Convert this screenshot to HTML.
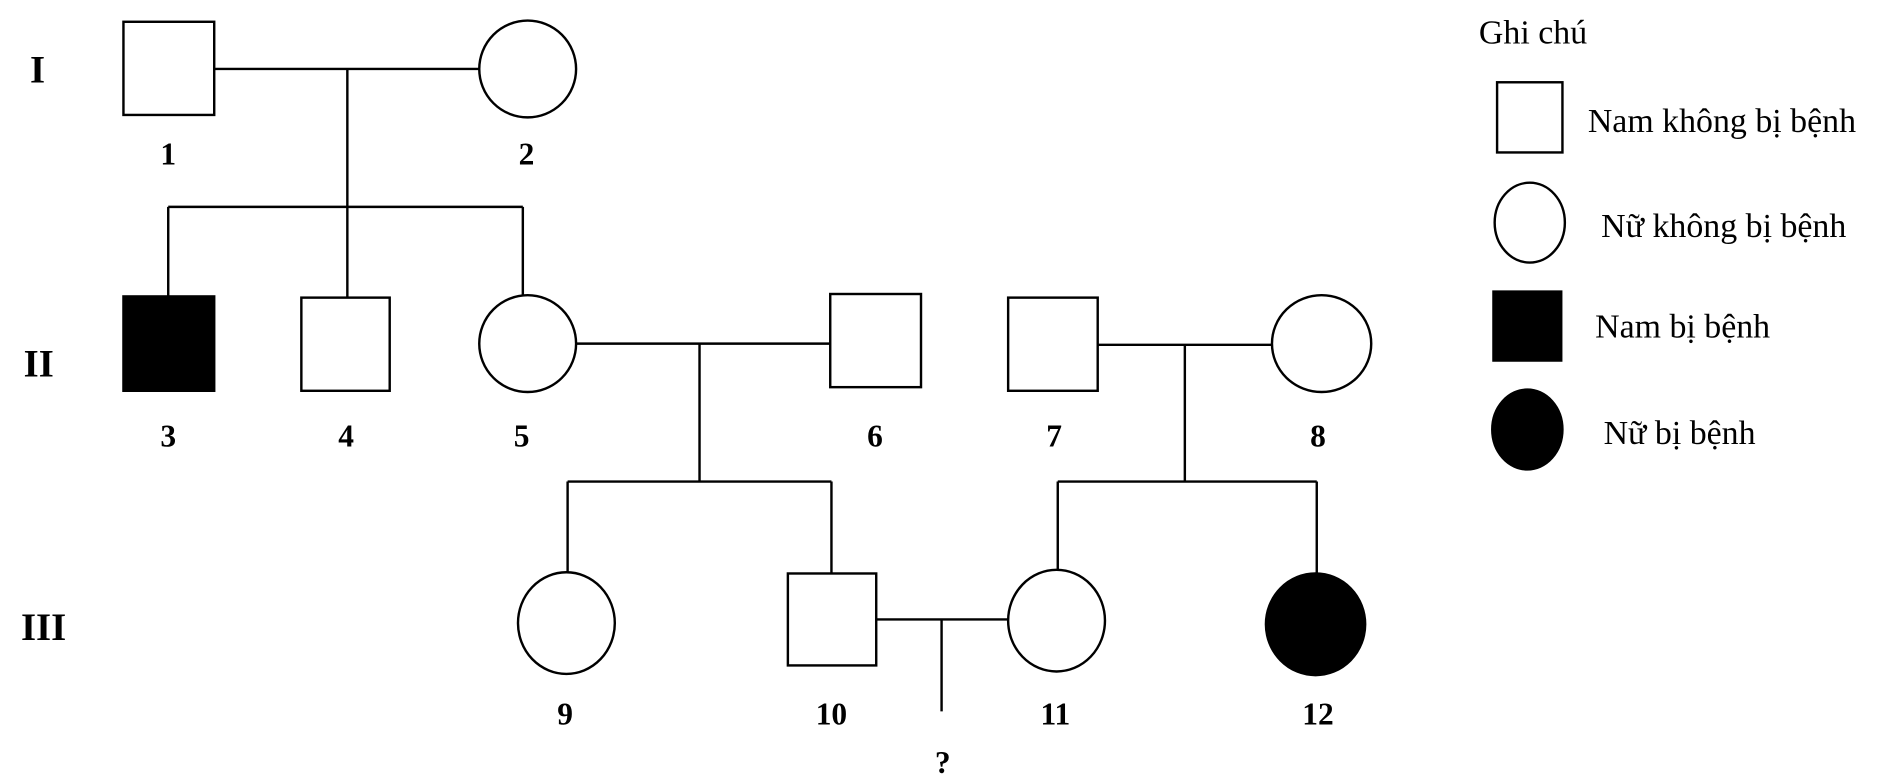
<!DOCTYPE html>
<html><head><meta charset="utf-8"><style>
html,body{margin:0;padding:0;background:#fff}
svg{display:block}
text{font-family:"Liberation Serif",serif}
.b{font-weight:bold;font-size:26px;text-anchor:middle}
.r{font-weight:bold;font-size:32px;text-anchor:middle}
.l{font-size:28px}
</style></head><body>
<svg width="1888" height="784" viewBox="0 0 1560 648" preserveAspectRatio="none" xmlns="http://www.w3.org/2000/svg">
<g stroke="#000" stroke-width="2" fill="none">
<rect x="102" y="18" width="75" height="77" fill="#fff"/>
<ellipse cx="436" cy="57" rx="40" ry="40" fill="#fff"/>
<line x1="177" y1="57" x2="396" y2="57"/>
<line x1="287" y1="57" x2="287" y2="171"/>
<line x1="139" y1="171" x2="432" y2="171"/>
<line x1="139" y1="171" x2="139" y2="245"/>
<line x1="287" y1="171" x2="287" y2="246"/>
<line x1="432" y1="171" x2="432" y2="244"/>
<rect x="102" y="245" width="75" height="78" fill="#000"/>
<rect x="249" y="246" width="73" height="77" fill="#fff"/>
<ellipse cx="436" cy="284" rx="40" ry="40" fill="#fff"/>
<line x1="476" y1="284" x2="686" y2="284"/>
<rect x="686" y="243" width="75" height="77" fill="#fff"/>
<line x1="578" y1="284" x2="578" y2="398"/>
<rect x="833" y="246" width="74" height="77" fill="#fff"/>
<ellipse cx="1092" cy="284" rx="41" ry="40" fill="#fff"/>
<line x1="907" y1="285" x2="1051" y2="285"/>
<line x1="979" y1="285" x2="979" y2="398"/>
<line x1="469" y1="398" x2="687" y2="398"/>
<line x1="469" y1="398" x2="469" y2="473"/>
<line x1="687" y1="398" x2="687" y2="475"/>
<line x1="874" y1="398" x2="1088" y2="398"/>
<line x1="874" y1="398" x2="874" y2="471"/>
<line x1="1088" y1="398" x2="1088" y2="474"/>
<ellipse cx="468" cy="515" rx="40" ry="42" fill="#fff"/>
<rect x="651" y="474" width="73" height="76" fill="#fff"/>
<ellipse cx="873" cy="513" rx="40" ry="42" fill="#fff"/>
<ellipse cx="1087" cy="516" rx="41" ry="42" fill="#000"/>
<line x1="724" y1="512" x2="833" y2="512"/>
<line x1="778" y1="512" x2="778" y2="588"/>
<rect x="1237" y="68" width="54" height="58" fill="#fff"/>
<ellipse cx="1264" cy="184" rx="29" ry="33" fill="#fff"/>
<rect x="1234" y="241" width="56" height="57" fill="#000"/>
<ellipse cx="1262" cy="355" rx="29" ry="33" fill="#000"/>
</g>
<text class="r" x="31" y="68">I</text>
<text class="r" x="32" y="311">II</text>
<text class="r" x="36" y="529">III</text>
<text class="b" x="139" y="136">1</text>
<text class="b" x="435" y="136">2</text>
<text class="b" x="139" y="369">3</text>
<text class="b" x="286" y="369">4</text>
<text class="b" x="431" y="369">5</text>
<text class="b" x="723" y="369">6</text>
<text class="b" x="871" y="369">7</text>
<text class="b" x="1089" y="369">8</text>
<text class="b" x="467" y="599">9</text>
<text class="b" x="687" y="599">10</text>
<text class="b" x="872" y="599">11</text>
<text class="b" x="1089" y="599">12</text>
<text class="b" x="779" y="639">?</text>
<text class="l" x="1222" y="36">Ghi chú</text>
<text class="l" x="1312" y="109">Nam không bị bệnh</text>
<text class="l" x="1323" y="196">Nữ không bị bệnh</text>
<text class="l" x="1318" y="279">Nam bị bệnh</text>
<text class="l" x="1325" y="367">Nữ bị bệnh</text>
</svg>
</body></html>
